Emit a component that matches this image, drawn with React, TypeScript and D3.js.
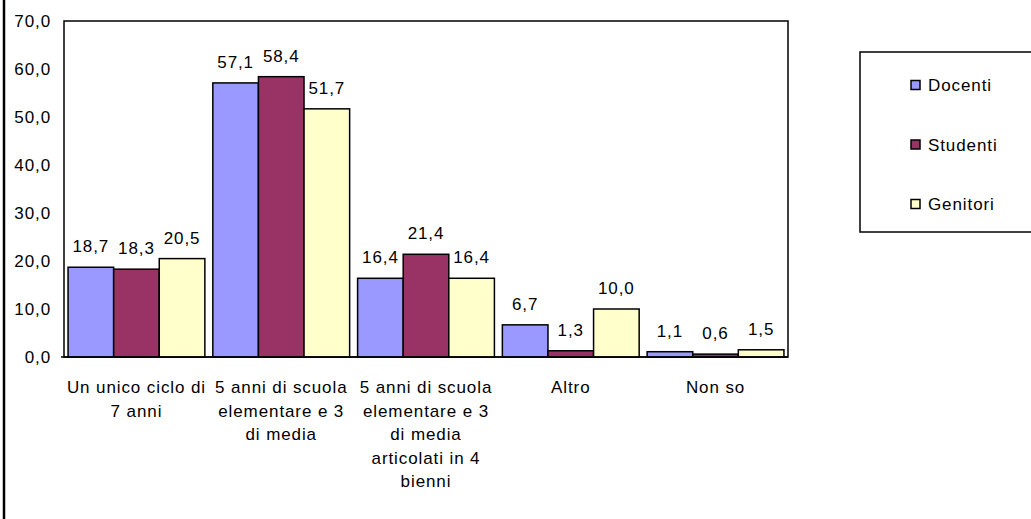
import { useRef, useEffect } from 'react';
import { scaleBand, scaleLinear, select, range } from 'd3';

const categories = [
  'Un unico ciclo di\n7 anni',
  '5 anni di scuola\nelementare e 3\ndi media',
  '5 anni di scuola\nelementare e 3\ndi media\narticolati in 4\nbienni',
  'Altro',
  'Non so',
];
const seriesNames = ['Docenti', 'Studenti', 'Genitori'];
const docenti = [18.7, 57.1, 16.4, 6.7, 1.1];
const studenti = [18.3, 58.4, 21.4, 1.3, 0.6];
const genitori = [20.5, 51.7, 16.4, 10.0, 1.5];
const yTicks = range(0, 71, 10);

const colors = ['#9999FF', '#993366', '#FFFFCC'];
const fmt = (v: number) => v.toFixed(1).replace('.', ',');

const W = 1031;
const H = 519;
const plot = { left: 64, right: 788, top: 21, bottom: 357 };
const FONT = '"Liberation Sans", Arial, sans-serif';
const FS = '17px';
const LS = '0.9px';

const App = () => {
  const ref = useRef<SVGSVGElement>(null);

  useEffect(() => {
    if (!ref.current) return;
    const svg = select(ref.current);
    svg.selectAll('*').remove();
    const series = [docenti, studenti, genitori];

    const x = scaleBand<number>()
      .domain(range(categories.length))
      .range([plot.left, plot.right])
      .paddingInner(0.055)
      .paddingOuter(0.028);
    const sub = scaleBand<number>().domain([0, 1, 2]).range([0, x.bandwidth()]);
    const y = scaleLinear().domain([0, 70]).range([plot.bottom, plot.top]);

    const txt = (sel: any) =>
      sel.style('font-family', FONT).style('font-size', FS).style('letter-spacing', LS);

    // outer left border
    svg.append('line').attr('x1', 4).attr('x2', 4).attr('y1', 0).attr('y2', H)
      .attr('stroke', '#000').attr('stroke-width', 2.5);

    // plot frame
    svg.append('rect')
      .attr('x', plot.left).attr('y', plot.top)
      .attr('width', plot.right - plot.left).attr('height', plot.bottom - plot.top)
      .attr('fill', 'none').attr('stroke', '#000').attr('stroke-width', 1.5);

    // y labels
    svg.append('g').selectAll('text').data(yTicks).join('text')
      .attr('x', 51).attr('y', (d) => y(d) + 6)
      .attr('text-anchor', 'end')
      .call(txt)
      .text((d) => fmt(d));

    // bars
    series.forEach((vals, s) => {
      const g = svg.append('g');
      g.selectAll('rect').data(vals).join('rect')
        .attr('x', (_, i) => (x(i) ?? 0) + (sub(s) ?? 0))
        .attr('y', (d) => y(d))
        .attr('width', sub.bandwidth())
        .attr('height', (d) => plot.bottom - y(d))
        .attr('fill', colors[s]).attr('stroke', '#000').attr('stroke-width', 1.5);
      g.selectAll('text').data(vals).join('text')
        .attr('x', (_, i) => (x(i) ?? 0) + (sub(s) ?? 0) + sub.bandwidth() / 2)
        .attr('y', (d) => y(d) - 15)
        .attr('text-anchor', 'middle')
        .call(txt)
        .text((d) => fmt(d));
    });

    // x axis line
    svg.append('line').attr('x1', plot.left - 3).attr('x2', plot.right)
      .attr('y1', plot.bottom).attr('y2', plot.bottom)
      .attr('stroke', '#000').attr('stroke-width', 1.5);

    // category labels
    categories.forEach((c, i) => {
      const t = svg.append('text')
        .attr('text-anchor', 'middle')
        .call(txt);
      c.split('\n').forEach((line, k) => {
        t.append('tspan')
          .attr('x', (x(i) ?? 0) + x.bandwidth() / 2)
          .attr('y', 393 + k * 23.5)
          .text(line);
      });
    });

    // legend
    svg.append('rect').attr('x', 860).attr('y', 52).attr('width', 180).attr('height', 180)
      .attr('fill', '#fff').attr('stroke', '#000').attr('stroke-width', 1.5);
    seriesNames.forEach((n, s) => {
      const cy = 85 + s * 59.5;
      svg.append('rect').attr('x', 911).attr('y', cy - 4.5).attr('width', 9).attr('height', 9)
        .attr('fill', colors[s]).attr('stroke', '#000').attr('stroke-width', 1.5);
      svg.append('text').attr('x', 928).attr('y', cy + 6)
        .call(txt).text(n);
    });
  }, []);

  return (
    <svg
      ref={ref}
      width={W}
      height={H}
      style={{ position: 'absolute', left: 0, top: 0, background: '#fff' }}
    />
  );
};

export default App;
